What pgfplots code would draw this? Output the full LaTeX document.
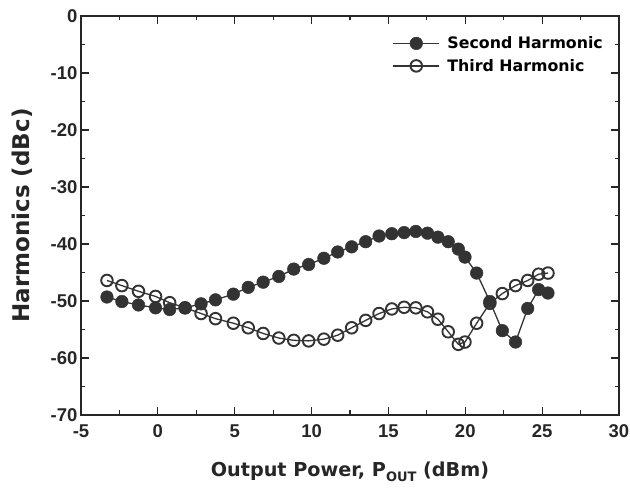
\documentclass[border=0pt]{standalone}
\usepackage{pgfplots}
\pgfplotsset{compat=1.18}
\usepackage{fontspec}
\setmainfont{DejaVu Sans}
\newfontfamily\arialf{Liberation Sans}
\definecolor{dk}{HTML}{333333}
\begin{document}
\begin{tikzpicture}
\begin{axis}[
  scale only axis,
  width=538pt, height=399pt,
  xmin=-5, xmax=30, ymin=-70, ymax=0,
  xtick={-5,0,...,30}, ytick={-70,-60,...,0},
  minor x tick num=1, minor y tick num=1,
  tick align=inside, tick pos=both,
  major tick length=8pt, minor tick length=4.5pt,
  every tick/.style={line width=1.1pt, black!85},
  axis line style={line width=1.4pt, black!85},
  /pgf/number format/assume math mode=true,
  ticklabel style={font=\arialf\bfseries\fontsize{18.5}{20}\selectfont, black!85},
  xticklabel style={yshift=-6pt},
  xlabel={Output Power, P\raisebox{-0.45ex}{\fontsize{13}{13}\selectfont OUT} (dBm)},
  ylabel={Harmonics (dBc)},
  xlabel style={font=\bfseries\fontsize{19.2}{22}\selectfont, at={(rel axis cs:0.5,0)}, anchor=base, yshift=-62pt, black!85},
  ylabel style={font=\bfseries\fontsize{23}{25}\selectfont, at={(axis description cs:-0.11,0.5)}, anchor=center, black!85},
  legend style={draw=none, fill=none, at={(rel axis cs:0.975,0.955)}, anchor=north east,
    font=\bfseries\fontsize{15.8}{17}\selectfont, row sep=4pt, inner sep=0pt,
    nodes={inner sep=2.5pt}},
  /tikz/every odd column/.append style={column sep=5pt},
  legend cell align=left,
  legend image code/.code={\draw[mark repeat=2,mark phase=2] plot coordinates {(0pt,0pt) (23pt,0pt) (46pt,0pt)};},
  clip=false,
]
\coordinate (bl) at (rel axis cs:0,0);
\coordinate (tr) at (rel axis cs:1,1);
\addplot[color=dk, line width=1.3pt, mark=*, mark size=6.3pt, mark options={fill=dk, draw=dk, line width=0.5pt}] coordinates {
(-3.31,-49.3) (-2.34,-50.1) (-1.26,-50.7) (-0.15,-51.2) (0.77,-51.5) (1.77,-51.2) (2.81,-50.5) (3.75,-49.8) (4.91,-48.8) (5.88,-47.6) (6.85,-46.7) (7.87,-45.7) (8.84,-44.4) (9.81,-43.6) (10.8,-42.5) (11.7,-41.4) (12.61,-40.5) (13.52,-39.6) (14.39,-38.6) (15.22,-38.2) (16.02,-38.0) (16.78,-37.8) (17.54,-38.1) (18.22,-38.8) (18.89,-39.6) (19.55,-40.9) (19.98,-42.3) (20.74,-45.1) (21.6,-50.1) (22.41,-55.2) (23.27,-57.2) (24.06,-51.3) (24.77,-48.0) (25.38,-48.6)
};
\addlegendentry{Second Harmonic}
\addplot[color=dk, line width=1.3pt, mark=o, mark size=5.8pt, mark options={fill=white, draw=dk, line width=1.9pt}] coordinates {
(-3.31,-46.4) (-2.34,-47.3) (-1.26,-48.3) (-0.15,-49.2) (0.77,-50.3) (1.77,-51.2) (2.81,-52.2) (3.75,-53.1) (4.91,-53.9) (5.88,-54.7) (6.85,-55.7) (7.87,-56.5) (8.84,-56.9) (9.81,-57.0) (10.8,-56.7) (11.7,-56.0) (12.61,-54.7) (13.52,-53.4) (14.39,-52.2) (15.22,-51.4) (16.02,-51.1) (16.78,-51.2) (17.54,-51.9) (18.22,-53.2) (18.89,-55.4) (19.55,-57.6) (19.98,-57.2) (20.74,-53.9) (21.6,-50.4) (22.41,-48.7) (23.27,-47.3) (24.06,-46.4) (24.77,-45.3) (25.38,-45.1)
};
\addlegendentry{Third Harmonic}
\end{axis}
\path (bl) ++(-81pt,-78pt) coordinate (p1);
\path (tr) ++(11pt,16pt) coordinate (p2);
\pgfresetboundingbox
\path (p1) rectangle (p2);
\end{tikzpicture}
\end{document}
